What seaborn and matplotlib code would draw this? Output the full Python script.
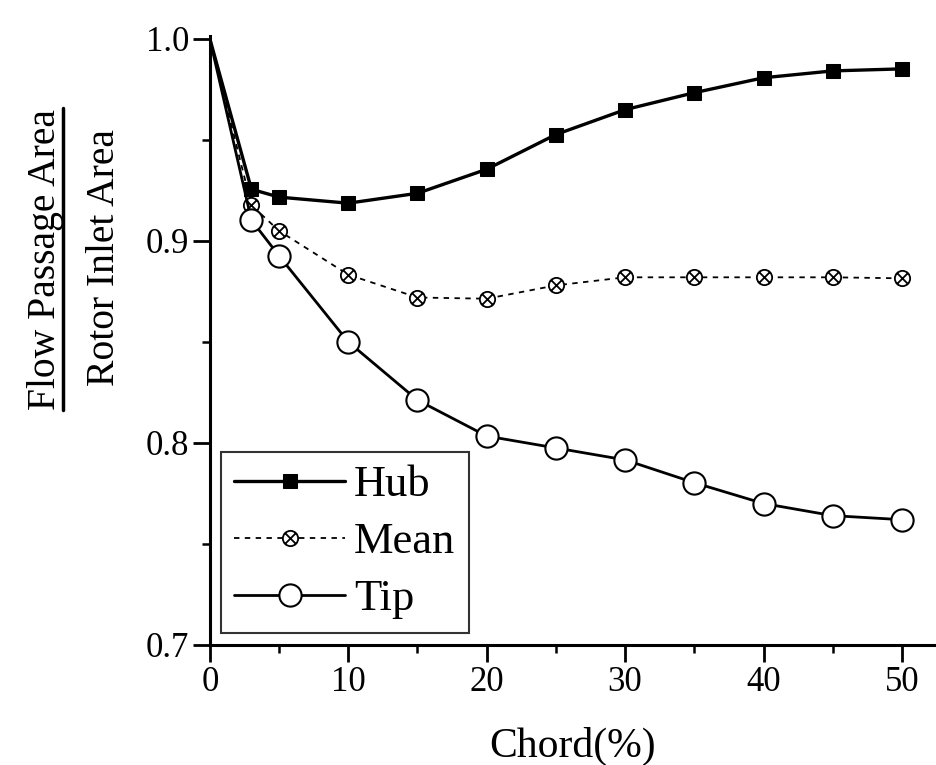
import numpy as np
import pandas as pd
import matplotlib
matplotlib.use("Agg")
import matplotlib.pyplot as plt
from matplotlib.path import Path
from matplotlib.ticker import MultipleLocator
import seaborn as sns

# ---- data ----
chord = [0, 3, 5, 10, 15, 20, 25, 30, 35, 40, 45, 50]
hub = [1.0, 0.9256, 0.9217, 0.9187, 0.9236, 0.9355, 0.9527, 0.9650, 0.9734, 0.9808, 0.9842, 0.9852]
mean = [1.0, 0.9177, 0.9050, 0.8833, 0.8720, 0.8714, 0.8780, 0.8820, 0.8820, 0.8820, 0.8820, 0.8815]
tip = [1.0, 0.9103, 0.8926, 0.8500, 0.8212, 0.8034, 0.7975, 0.7916, 0.7803, 0.7700, 0.7640, 0.7620]
series_names = ["Hub", "Mean", "Tip"]
x_ticks = [0, 10, 20, 30, 40, 50]
y_ticks = [0.7, 0.8, 0.9, 1.0]

sns.set_theme(style="ticks")
plt.rcParams["font.family"] = ["Liberation Serif", "DejaVu Serif"]
plt.rcParams["text.color"] = "black"

fig = plt.figure(figsize=(9.37, 7.65), dpi=100)
ax = fig.add_axes([0.224, 0.157, 0.774, 0.796])

# circle with X marker
circ = Path.unit_circle()
xs = Path([[-0.7, -0.7], [0.7, 0.7], [-0.7, 0.7], [0.7, -0.7]],
          [Path.MOVETO, Path.LINETO, Path.MOVETO, Path.LINETO])
otimes = Path.make_compound_path(circ, xs)

sns.lineplot(x=chord, y=hub, ax=ax, color="black", lw=2.4, marker="s",
             markersize=10, markerfacecolor="black", markeredgecolor="black",
             markevery=slice(1, None), label=series_names[0])
sns.lineplot(x=chord, y=mean, ax=ax, color="black", lw=1.3, linestyle=(0, (3, 3)),
             marker=otimes, markersize=11, markerfacecolor="white",
             markeredgecolor="black", markeredgewidth=1.3,
             markevery=slice(1, None), label=series_names[1])
sns.lineplot(x=chord, y=tip, ax=ax, color="black", lw=2.0, marker="o",
             markersize=16, markerfacecolor="white", markeredgecolor="black",
             markeredgewidth=1.5, markevery=slice(1, None), label=series_names[2])

ax.set_xlim(0, 52.4)
ax.set_ylim(0.7, 1.0015)
ax.set_xticks(x_ticks)
ax.set_yticks(y_ticks)
ax.set_yticklabels([f"{v:.1f}" for v in y_ticks])
ax.xaxis.set_minor_locator(MultipleLocator(5))
ax.yaxis.set_minor_locator(MultipleLocator(0.05))
ax.tick_params(which="major", direction="out", length=12, width=2, labelsize=25,
               colors="black", pad=3)
ax.tick_params(which="minor", direction="out", length=6, width=1.8, colors="black")
for s in ["top", "right"]:
    ax.spines[s].set_visible(False)
for s in ["left", "bottom"]:
    ax.spines[s].set_linewidth(2.2)
    ax.spines[s].set_color("black")

ax.set_xlabel("Chord(%)", fontsize=30, labelpad=20, color="black")
ax.set_ylabel("")

leg = ax.legend(loc="lower left", bbox_to_anchor=(0.015, 0.02), fontsize=32,
                frameon=True, fancybox=False, edgecolor="black", handlelength=2.5,
                handletextpad=0.2, borderpad=0.3, labelspacing=0.38, borderaxespad=0,
                labelcolor="black")
leg.get_frame().set_linewidth(1.5)

# fraction-style y label
fig.text(0.049, 0.661, "Flow Passage Area", rotation=90, ha="center", va="center",
         fontsize=28.5, color="black")
fig.text(0.112, 0.663, "Rotor Inlet Area", rotation=90, ha="center", va="center",
         fontsize=28.5, color="black")
fig.add_artist(plt.Line2D([0.0672, 0.0672], [0.464, 0.859], transform=fig.transFigure,
                          color="black", lw=2.5))

fig.savefig("out.png", dpi=100, facecolor="white")
